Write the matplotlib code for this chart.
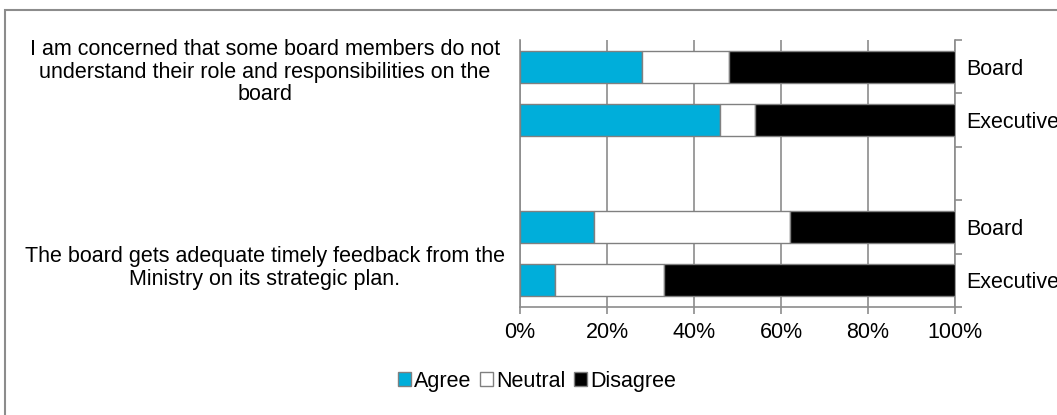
import matplotlib
matplotlib.use("Agg")
import matplotlib.pyplot as plt
from matplotlib.patches import Rectangle
from matplotlib.transforms import blended_transform_factory

plt.rcParams['font.family'] = ['Liberation Sans', 'DejaVu Sans']

# rows from top to bottom (slot 2 is an empty spacer)
rows = ['Board', 'Executive', '', 'Board', 'Executive']
agree = [28, 46, None, 17, 8]
neutral = [20, 8, None, 45, 25]
disagree = [52, 46, None, 38, 67]
questions = ['I am concerned that some board members do not\nunderstand their role and responsibilities on the\nboard',
             'The board gets adequate timely feedback from the\nMinistry on its strategic plan.']
question_pos = [0.1, 3.77]
ticks = [0, 20, 40, 60, 80, 100]

colors = {'Agree': '#00AEDA', 'Neutral': '#FFFFFF', 'Disagree': '#000000'}
W, H = 1057, 415
FS = 15.5

fig = plt.figure(figsize=(W / 100, H / 100), dpi=100)
ax = fig.add_axes([520 / W, 1 - 307 / H, 435 / W, 267 / H])

pos = [i for i, r in enumerate(rows) if r]
a = [agree[i] for i in pos]
n = [neutral[i] for i in pos]
d = [disagree[i] for i in pos]
left_n = a
left_d = [x + y for x, y in zip(a, n)]

ax.barh(pos, a, height=0.6, color=colors['Agree'], edgecolor='#808080', linewidth=1, label='Agree', zorder=3)
ax.barh(pos, n, left=left_n, height=0.6, color=colors['Neutral'], edgecolor='#808080', linewidth=1, label='Neutral', zorder=3)
ax.barh(pos, d, left=left_d, height=0.6, color=colors['Disagree'], edgecolor='#808080', linewidth=1, label='Disagree', zorder=3)

ax.set_xlim(0, 100)
ax.set_ylim(len(rows) - 0.5, -0.5)
ax.set_xticks(ticks)
ax.set_xticklabels([f'{t}%' for t in ticks], fontsize=FS)
ax.xaxis.grid(True, color='#8c8c8c', linewidth=1.2, zorder=0)
ax.tick_params(axis='x', length=5, width=1.2, color='#8c8c8c', pad=6)

# category labels on the right side
ax.yaxis.tick_right()
ax.set_yticks(pos)
ax.set_yticklabels([rows[i] for i in pos], fontsize=FS)
ax.set_yticks([i - 0.5 for i in range(len(rows) + 1)], minor=True)
ax.tick_params(axis='y', which='major', length=0, pad=8)
ax.tick_params(axis='y', which='minor', length=5, width=1.2, color='#8c8c8c', direction='out')

ax.spines['top'].set_visible(False)
for s in ['left', 'right', 'bottom']:
    ax.spines[s].set_color('#8c8c8c')
    ax.spines[s].set_linewidth(1.2)

tr = blended_transform_factory(fig.transFigure, ax.transData)
for q, y in zip(questions, question_pos):
    ax.text(265 / W, y, q, transform=tr, ha='center', va='center', fontsize=FS, linespacing=1.12)

fig.legend(loc='center', bbox_to_anchor=(537 / W, 1 - 381 / H), ncol=3, frameon=False,
           fontsize=FS, handlelength=0.6, handleheight=0.6, handletextpad=0.15, columnspacing=0.4)

# outer frame (top and left edges visible)
fig.patches.append(Rectangle((5 / W, -0.1), 1.2, 1.1 - 10 / H, transform=fig.transFigure,
                             fill=False, edgecolor='#8c8c8c', linewidth=1.5))

fig.savefig('out.png', dpi=100)
